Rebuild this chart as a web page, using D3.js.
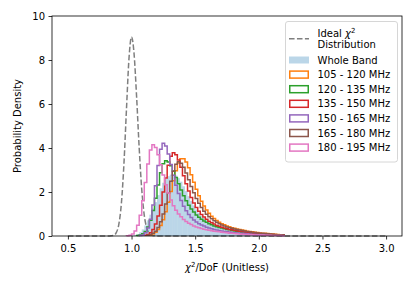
<!DOCTYPE html>
<html>
<head>
<meta charset="utf-8">
<script src="https://cdn.jsdelivr.net/npm/d3@7"></script>
<style>
  body { margin: 0; background: #fff; }
  text { font-family: "DejaVu Sans", sans-serif; }
</style>
</head>
<body>
<div id="chart"></div>
<script>
// ---- data ----
const binWidth = 0.02

// ideal chi^2 / DoF curve (x, density)
const idealX = [0.50, 0.82, 0.84, 0.86, 0.88, 0.90, 0.92, 0.94, 0.96, 0.98, 1.00, 1.02, 1.04, 1.06, 1.08, 1.10, 1.12, 1.14, 1.16, 1.18, 1.20, 3.00]
const idealY = [0, 0, 0.01, 0.03, 0.15, 0.53, 1.47, 3.26, 5.75, 8.08, 9.05, 8.27, 6.30, 4.01, 2.13, 0.94, 0.35, 0.11, 0.03, 0.01, 0, 0]

// whole band histogram, first bin edge at 0.98
const wholeStart = 0.98
const wholeBand = [0.01, 0.02, 0.04, 0.09, 0.17, 0.30, 0.48, 0.71, 0.97, 1.25,
    1.54, 1.86, 2.17, 2.42, 2.60, 2.72, 2.79, 2.80, 2.75, 2.63,
    2.47, 2.26, 2.04, 1.81, 1.59, 1.39, 1.21, 1.06, 0.92, 0.81,
    0.72, 0.64, 0.57, 0.51, 0.46, 0.41, 0.37, 0.34, 0.31, 0.28,
    0.26, 0.24, 0.22, 0.20, 0.18, 0.17, 0.15, 0.14, 0.13, 0.12,
    0.11, 0.10, 0.09, 0.08, 0.07, 0.07, 0.06, 0.05, 0.05, 0.04, 0.04]

// sub-band histograms
const bandLabels = ["105 - 120 MHz", "120 - 135 MHz", "135 - 150 MHz", "150 - 165 MHz", "165 - 180 MHz", "180 - 195 MHz"]
const bandColors = ["#ff7f0e", "#2ca02c", "#d62728", "#9467bd", "#8c564b", "#e377c2"]
const bandStarts = [1.14, 1.04, 1.10, 1.06, 1.12, 0.96]

const band105 = [0.05, 0.09, 0.17, 0.29, 0.48, 0.74, 1.10, 1.53, 2.02, 2.51, 2.97, 3.32, 3.51,
    3.51, 3.36, 3.10, 2.78, 2.44, 2.12, 1.83, 1.58, 1.36, 1.18, 1.03, 0.90, 0.80, 0.71, 0.63, 0.56, 0.51, 0.46,
    0.42, 0.38, 0.35, 0.32, 0.29, 0.27, 0.25, 0.22, 0.20, 0.19, 0.17, 0.16, 0.14, 0.13, 0.12, 0.11, 0.10, 0.09, 0.08, 0.07, 0.06, 0.06]
const band120 = [0.02, 0.05, 0.10, 0.21, 0.41, 0.72, 1.16, 1.72, 2.32, 2.88, 3.28, 3.42,
    3.36, 3.19, 2.95, 2.66, 2.37, 2.09, 1.83, 1.60, 1.40, 1.23, 1.09, 0.96, 0.85, 0.76, 0.68, 0.62, 0.56, 0.51, 0.46, 0.42, 0.39, 0.36, 0.33, 0.30,
    0.28, 0.25, 0.23, 0.21, 0.19, 0.17, 0.16, 0.14, 0.13, 0.12, 0.11, 0.10, 0.09, 0.08, 0.07, 0.07, 0.06, 0.05, 0.05, 0.04, 0.04, 0.03]
const band135 = [0.03, 0.07, 0.15, 0.30, 0.54, 0.91, 1.40, 2.00, 2.64, 3.22, 3.63, 3.78,
    3.69, 3.45, 3.12, 2.74, 2.37, 2.04, 1.75, 1.50, 1.30, 1.12, 0.98, 0.86, 0.76, 0.67, 0.60, 0.54, 0.48, 0.44, 0.40, 0.36, 0.33,
    0.30, 0.28, 0.26, 0.24, 0.22, 0.20, 0.18, 0.17, 0.15, 0.14, 0.13, 0.12, 0.11, 0.10, 0.09, 0.08, 0.07, 0.07, 0.06, 0.05, 0.05, 0.04]
const band150 = [0.02, 0.05, 0.15, 0.36, 0.76, 1.41, 2.28, 3.21, 3.94, 4.22,
    4.09, 3.73, 3.25, 2.76, 2.31, 1.93, 1.61, 1.35, 1.15, 0.98, 0.84, 0.73, 0.64, 0.56, 0.50, 0.45, 0.40, 0.36, 0.33, 0.30, 0.27, 0.25, 0.23, 0.21, 0.19,
    0.18, 0.16, 0.15, 0.14, 0.13, 0.12, 0.11, 0.10, 0.09, 0.08, 0.08, 0.07, 0.06, 0.06, 0.05, 0.05, 0.04, 0.04, 0.03, 0.03, 0.03, 0.02]
const band165 = [0.03, 0.06, 0.12, 0.22, 0.39, 0.65, 1.00, 1.45, 1.96, 2.49, 2.94, 3.26, 3.37,
    3.31, 3.12, 2.86, 2.56, 2.25, 1.97, 1.71, 1.49, 1.29, 1.13, 0.99, 0.88, 0.78, 0.69, 0.62, 0.56, 0.50, 0.45, 0.41,
    0.38, 0.35, 0.32, 0.29, 0.27, 0.25, 0.23, 0.21, 0.19, 0.17, 0.16, 0.14, 0.13, 0.12, 0.11, 0.10, 0.09, 0.08, 0.07, 0.06, 0.06, 0.05]
const band180 = [0.01, 0.03, 0.09, 0.23, 0.49, 0.94, 1.60, 2.43, 3.27, 3.91, 4.15,
    4.02, 3.69, 3.24, 2.77, 2.33, 1.95, 1.64, 1.38, 1.17, 1.00, 0.87, 0.75, 0.66, 0.58, 0.52, 0.46, 0.41, 0.37, 0.34, 0.31, 0.28, 0.26, 0.24, 0.22, 0.20, 0.19, 0.17, 0.16, 0.15,
    0.13, 0.12, 0.11, 0.10, 0.09, 0.08, 0.07, 0.07, 0.06, 0.06, 0.05, 0.05, 0.04, 0.04, 0.03, 0.03, 0.03, 0.02, 0.02, 0.02, 0.02, 0.01]
const bandValues = [band105, band120, band135, band150, band165, band180]

const xTicks = [0.5, 1.0, 1.5, 2.0, 2.5, 3.0]
const yTicks = [0, 2, 4, 6, 8, 10]

// ---- chart ----
const width = 415, height = 291
const plot = { left: 52, right: 402, top: 16, bottom: 236 }

const svg = d3.select("#chart").append("svg")
    .attr("width", width)
    .attr("height", height)
    .attr("viewBox", [0, 0, width, height])

const x = d3.scaleLinear().domain([0.375, 3.125]).range([plot.left, plot.right])
const y = d3.scaleLinear().domain([0, 10]).range([plot.bottom, plot.top])

function toBins(start, values) {
    return values.map((v, i) => ({ x0: start + i * binWidth, x1: start + (i + 1) * binWidth, v: v }))
}

function stepPoints(start, values) {
    const pts = [[start, 0]]
    values.forEach((v, i) => {
        pts.push([start + i * binWidth, v])
        pts.push([start + (i + 1) * binWidth, v])
    })
    pts.push([start + values.length * binWidth, 0])
    return pts
}

const line = d3.line().x(d => x(d[0])).y(d => y(d[1]))

// ideal curve
svg.append("path")
    .datum(d3.zip(idealX, idealY))
    .attr("fill", "none")
    .attr("stroke", "#7f7f7f")
    .attr("stroke-width", 1.5)
    .attr("stroke-dasharray", "5.55,2.4")
    .attr("d", d3.line().x(d => x(d[0])).y(d => y(d[1])).curve(d3.curveMonotoneX))

// whole band bars
svg.append("g")
    .selectAll("rect")
    .data(toBins(wholeStart, wholeBand))
    .join("rect")
    .attr("x", d => x(d.x0))
    .attr("width", d => x(d.x1) - x(d.x0))
    .attr("y", d => y(d.v))
    .attr("height", d => y(0) - y(d.v))
    .attr("fill", "#1f77b4")
    .attr("fill-opacity", 0.3)

// sub band steps
svg.append("g")
    .selectAll("path")
    .data(bandValues)
    .join("path")
    .attr("fill", "none")
    .attr("stroke", (d, i) => bandColors[i])
    .attr("stroke-width", 1.5)
    .attr("d", (d, i) => line(stepPoints(bandStarts[i], d)))

// axes
const xAxis = svg.append("g")
    .attr("transform", `translate(0,${plot.bottom})`)
    .call(d3.axisBottom(x).tickValues(xTicks).tickSize(3.5).tickPadding(5.5).tickFormat(d3.format(".1f")))
const yAxis = svg.append("g")
    .attr("transform", `translate(${plot.left},0)`)
    .call(d3.axisLeft(y).tickValues(yTicks).tickSize(3.5).tickPadding(3.5))

for (const g of [xAxis, yAxis]) {
    g.select(".domain").remove()
    g.selectAll("line").attr("stroke", "#000").attr("stroke-width", 0.8)
    g.selectAll("text").attr("fill", "#000").style("font-size", "10px").style("font-family", "DejaVu Sans")
}

svg.append("rect")
    .attr("x", plot.left)
    .attr("y", plot.top)
    .attr("width", plot.right - plot.left)
    .attr("height", plot.bottom - plot.top)
    .attr("fill", "none")
    .attr("stroke", "#000")
    .attr("stroke-width", 0.8)

// axis labels
const xl = svg.append("text")
    .attr("x", (plot.left + plot.right) / 2)
    .attr("y", 271)
    .attr("text-anchor", "middle")
    .style("font-size", "10px")
xl.append("tspan").style("font-style", "italic").text("χ")
xl.append("tspan").attr("dy", -4).style("font-size", "7px").text("2")
xl.append("tspan").attr("dy", 4).text("/DoF (Unitless)")

svg.append("text")
    .attr("transform", `translate(17,${(plot.top + plot.bottom) / 2}) rotate(-90)`)
    .attr("text-anchor", "middle")
    .attr("dy", "0.35em")
    .style("font-size", "10px")
    .text("Probability Density")

// legend
const legend = svg.append("g")
legend.append("rect")
    .attr("x", 285.5).attr("y", 21.5)
    .attr("width", 112).attr("height", 140.5)
    .attr("rx", 2.5)
    .attr("fill", "#fff").attr("fill-opacity", 0.8)
    .attr("stroke", "#cccccc").attr("stroke-width", 0.8)

const hx0 = 289, hx1 = 309, tx = 317.5

legend.append("line")
    .attr("x1", hx0).attr("x2", hx1).attr("y1", 38.8).attr("y2", 38.8)
    .attr("stroke", "#7f7f7f").attr("stroke-width", 1.5).attr("stroke-dasharray", "5.55,2.4")
const t1 = legend.append("text").attr("x", tx).attr("y", 33.3).attr("dy", "0.35em").style("font-size", "10px")
t1.append("tspan").text("Ideal ")
t1.append("tspan").style("font-style", "italic").text("χ")
t1.append("tspan").attr("dy", -4).style("font-size", "7px").text("2")
legend.append("text").attr("x", tx).attr("y", 44.3).attr("dy", "0.35em").style("font-size", "10px").text("Distribution")

legend.append("rect")
    .attr("x", hx0).attr("y", 56.5).attr("width", hx1 - hx0).attr("height", 7)
    .attr("fill", "#1f77b4").attr("fill-opacity", 0.3)
legend.append("text").attr("x", tx).attr("y", 60).attr("dy", "0.35em").style("font-size", "10px").text("Whole Band")

const rows = legend.selectAll("g.row")
    .data(bandLabels)
    .join("g")
    .attr("class", "row")
    .attr("transform", (d, i) => `translate(0,${74.6 + i * 14.6})`)
rows.append("rect")
    .attr("x", hx0 + 0.75).attr("y", -3.5).attr("width", hx1 - hx0 - 1.5).attr("height", 7)
    .attr("fill", "none")
    .attr("stroke", (d, i) => bandColors[i])
    .attr("stroke-width", 1.5)
rows.append("text")
    .attr("x", tx).attr("dy", "0.35em")
    .style("font-size", "10px")
    .text(d => d)
</script>
</body>
</html>
